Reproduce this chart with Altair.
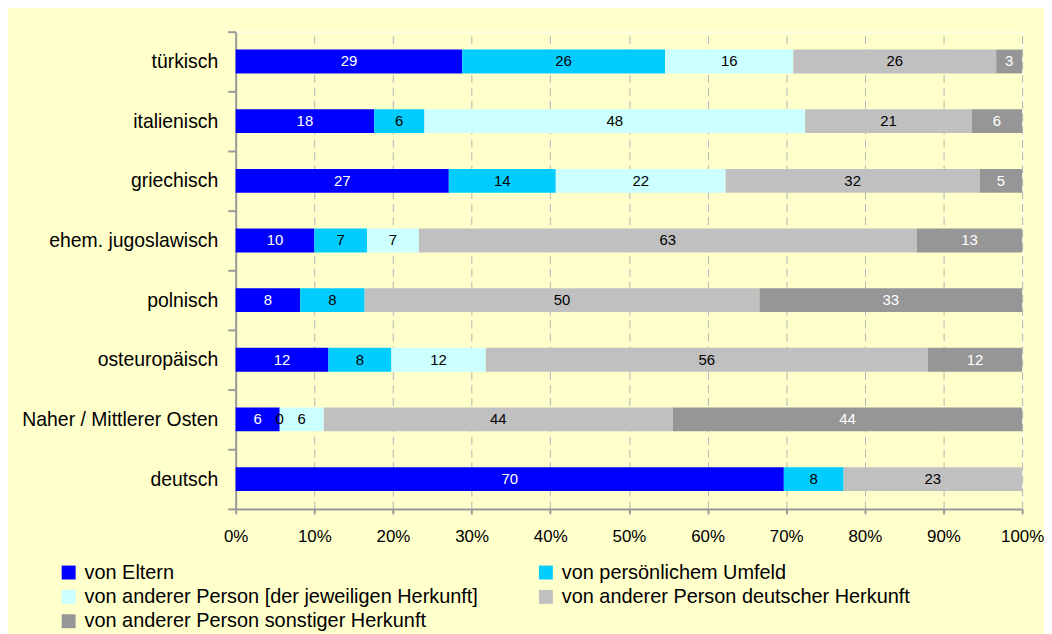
import altair as alt
import pandas as pd

categories = ["türkisch", "italienisch", "griechisch", "ehem. jugoslawisch",
              "polnisch", "osteuropäisch", "Naher / Mittlerer Osten", "deutsch"]
series = ["von Eltern", "von persönlichem Umfeld",
          "von anderer Person [der jeweiligen Herkunft]",
          "von anderer Person deutscher Herkunft",
          "von anderer Person sonstiger Herkunft"]
colors = ["#0000FF", "#00CCFF", "#CCFFFF", "#C0C0C0", "#969696"]
label_colors = ["white", "black", "black", "black", "white"]

von_eltern = [28.8, 17.6, 27.1, 10.0, 8.2, 11.8, 5.6, 69.7]
von_umfeld = [25.8, 6.4, 13.6, 6.7, 8.2, 8.0, 0.0, 7.6]
von_herkunft = [16.3, 48.4, 21.6, 6.6, None, 12.0, 5.6, None]
von_deutsch = [25.8, 21.2, 32.3, 63.3, 50.2, 56.2, 44.4, 22.7]
von_sonstig = [3.3, 6.4, 5.4, 13.4, 33.4, 12.0, 44.4, None]

values = [von_eltern, von_umfeld, von_herkunft, von_deutsch, von_sonstig]
rows = []
for si, (s, vals) in enumerate(zip(series, values)):
    for c, v in zip(categories, vals):
        if v is None:
            continue
        rows.append({"category": c, "series": s, "value": v, "order": si,
                     "tc": label_colors[si]})
df = pd.DataFrame(rows)

FONT = "Liberation Sans"

base = alt.Chart(df).transform_stack(
    stack="value", groupby=["category"], as_=["x0", "x1"],
    offset="normalize", sort=[alt.SortField("order", order="ascending")]
).transform_calculate(mid="(datum.x0 + datum.x1) / 2")

yenc = alt.Y("category:N", sort=categories,
             scale=alt.Scale(paddingInner=0, paddingOuter=0),
             axis=alt.Axis(title=None, tickBand="extent", domainColor="#999999",
                           domainWidth=2, tickColor="#999999", tickWidth=2,
                           tickSize=8, labelPadding=10, labelFontSize=19.5,
                           labelFont=FONT, labelColor="black", grid=False,
                           labelLimit=400))

bars = base.mark_bar(height=alt.RelativeBandSize(band=0.4)).encode(
    y=yenc,
    x=alt.X("x0:Q", scale=alt.Scale(domain=[0, 1], nice=False),
            axis=alt.Axis(title=None, format="%", values=[i / 10 for i in range(11)],
                          grid=True, gridDash=[8, 5], gridColor="#B4B4B4",
                          gridWidth=1, domainColor="#999999", domainWidth=2,
                          tickColor="#999999", tickWidth=2, tickSize=5,
                          labelPadding=15, labelFontSize=17, labelFont=FONT,
                          labelColor="black", labelFlush=False)),
    x2="x1:Q",
    color=alt.Color("series:N", scale=alt.Scale(domain=series, range=colors),
                    legend=alt.Legend(title=None, orient="none", legendX=-178,
                                      legendY=534, columns=2, direction="horizontal",
                                      columnPadding=58, rowPadding=4.5,
                                      symbolType="square", symbolSize=196,
                                      symbolStrokeWidth=0, labelFontSize=20,
                                      labelFont=FONT, labelColor="black",
                                      labelOffset=6, padding=0, labelLimit=600)),
)

labels = base.mark_text(fontSize=15, font=FONT, baseline="middle").encode(
    y=alt.Y("category:N", sort=categories),
    x=alt.X("mid:Q"),
    text=alt.Text("value:Q", format=".0f"),
    color=alt.Color("tc:N", scale=None),
)

chart = alt.layer(bars, labels).properties(
    width=791, height=480,
    padding={"left": 229, "top": 22, "right": 22, "bottom": 124},
    autosize=alt.AutoSizeParams(type="none"),
).configure(background="#FFFFCC").configure_view(stroke="white", strokeWidth=1)

chart.save("out.html", embed_options={"renderer": "svg", "actions": False})
